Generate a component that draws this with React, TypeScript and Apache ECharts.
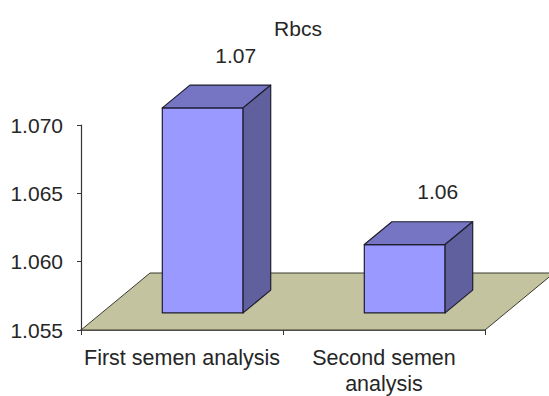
import React, { useEffect, useRef } from "react";
import * as echarts from "echarts";

const TITLE = "Rbcs";
const categories = ["First semen analysis", "Second semen\nanalysis"];
const values = [1.07, 1.06];
const Y_MIN = 1.055;
const Y_MAX = 1.07;
const Y_INTERVAL = 0.005;

// 3D projection geometry (pixels)
const DX = 69;
const DY = -57;
const BAR_W = 0.4;
const D0 = 0.3;
const D1 = 0.7;

const FONT = "'Liberation Sans', Arial, sans-serif";
const TEXT = "#262626";

export default function App() {
  const ref = useRef<HTMLDivElement>(null);
  useEffect(() => {
    if (!ref.current) return;
    const chart = echarts.init(ref.current, undefined, { renderer: "svg" });
    const option: any = {
      animation: false,
      backgroundColor: "#ffffff",
      title: {
        text: TITLE,
        left: 293,
        top: 13,
        textAlign: "center",
        textStyle: { fontFamily: FONT, fontSize: 21, fontWeight: "normal", color: TEXT },
      },
      grid: { left: 81, right: 64, top: 125, bottom: 66, containLabel: false, outerBoundsMode: "none" },
      xAxis: {
        type: "category",
        data: categories,
        axisLine: { lineStyle: { color: "#333", width: 1.5 } },
        axisTick: { show: true, length: 5, lineStyle: { color: "#333" } },
        axisLabel: { fontFamily: FONT, fontSize: 21.5, color: TEXT, margin: 15, lineHeight: 26, interval: 0 },
        splitLine: { show: false },
      },
      yAxis: {
        type: "value",
        min: Y_MIN,
        max: Y_MAX,
        interval: Y_INTERVAL,
        axisLine: { show: true, lineStyle: { color: "#333", width: 1.2 } },
        axisTick: { show: true, length: 4, lineStyle: { color: "#333" } },
        axisLabel: {
          fontFamily: FONT,
          fontSize: 21,
          color: TEXT,
          margin: 18,
          formatter: (v: number) => v.toFixed(3),
        },
        splitLine: { show: false },
      },
      series: [
        {
          type: "custom",
          z: 1,
          clip: false,
          silent: true,
          data: [[0, Y_MIN]],
          renderItem: (params: any) => {
            const cs = params.coordSys;
            const x0 = cs.x;
            const x1 = cs.x + cs.width;
            const y = cs.y + cs.height;
            return {
              type: "polygon",
              shape: {
                points: [
                  [x0, y],
                  [x1, y],
                  [x1 + DX, y + DY],
                  [x0 + DX, y + DY],
                ],
              },
              style: { fill: "#c3c39f", stroke: "#3a3a30", lineWidth: 1 },
            };
          },
        },
        {
          type: "custom",
          z: 3,
          clip: false,
          data: values.map((v, i) => [i, v]),
          renderItem: (params: any, api: any) => {
            const base = api.coord([api.value(0), Y_MIN]);
            const topP = api.coord([api.value(0), api.value(1)]);
            const band = api.size([1, 0])[0];
            const w = band * BAR_W;
            const fx = base[0] - w / 2 + D0 * DX;
            const fy0 = base[1] + D0 * DY;
            const fy1 = topP[1] + D0 * DY;
            const bx = (D1 - D0) * DX;
            const by = (D1 - D0) * DY;
            const edge = { stroke: "#1e1e2e", lineWidth: 1.2, lineJoin: "round" };
            return {
              type: "group",
              children: [
                {
                  type: "polygon",
                  shape: { points: [[fx, fy1], [fx + w, fy1], [fx + w, fy0], [fx, fy0]] },
                  style: { fill: "#9999ff", ...edge },
                },
                {
                  type: "polygon",
                  shape: { points: [[fx, fy1], [fx + bx, fy1 + by], [fx + w + bx, fy1 + by], [fx + w, fy1]] },
                  style: { fill: "#7575c4", ...edge },
                },
                {
                  type: "polygon",
                  shape: { points: [[fx + w, fy1], [fx + w + bx, fy1 + by], [fx + w + bx, fy0 + by], [fx + w, fy0]] },
                  style: { fill: "#60609f", ...edge },
                },
                {
                  type: "text",
                  x: fx + w / 2 + 33,
                  y: fy1 + by - 30,
                  style: {
                    text: Number(api.value(1)).toFixed(2),
                    fontFamily: FONT,
                    fontSize: 21,
                    fill: TEXT,
                    align: "center",
                    verticalAlign: "middle",
                  },
                },
              ],
            };
          },
        },
      ],
    };
    chart.setOption(option);
    return () => chart.dispose();
  }, []);
  return <div ref={ref} style={{ width: 549, height: 396, position: "absolute", left: 0, top: 0 }} />;
}
